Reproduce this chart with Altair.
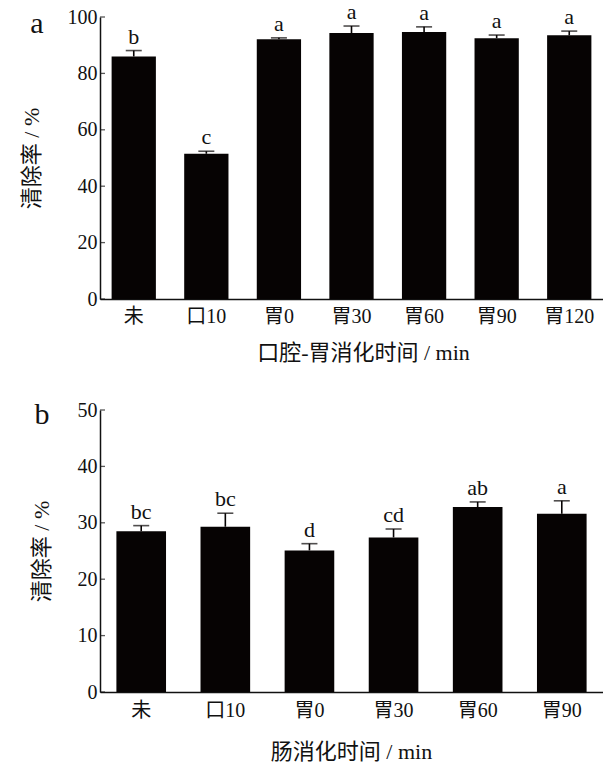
import altair as alt
import pandas as pd

# Panel a: oral-gastric digestion
cats_a = ["未", "口10", "胃0", "胃30", "胃60", "胃90", "胃120"]
vals_a = [86.0, 51.5, 92.1, 94.3, 94.7, 92.5, 93.5]
err_a = [2.1, 0.9, 0.5, 2.5, 1.8, 1.1, 1.5]
sig_a = ["b", "c", "a", "a", "a", "a", "a"]
ticks_a = [0, 20, 40, 60, 80, 100]

# Panel b: intestinal digestion
cats_b = ["未", "口10", "胃0", "胃30", "胃60", "胃90"]
vals_b = [28.5, 29.3, 25.1, 27.4, 32.8, 31.6]
err_b = [1.0, 2.4, 1.2, 1.5, 0.9, 2.3]
sig_b = ["bc", "bc", "d", "cd", "ab", "a"]
ticks_b = [0, 10, 20, 30, 40, 50]

FONT = "Liberation Serif, Times New Roman, Noto Sans CJK SC"
W, H = 503, 282


def panel(cats, vals, errs, sigs, ticks, ymax, xtitle, letter, pin, pout,
          title_x, letter_x, letter_y, label_pad, title_pad):
    df = pd.DataFrame({"c": cats, "v": vals, "e": errs, "s": sigs})
    tdf = pd.DataFrame({"v": ticks})
    x = alt.X("c:N", sort=cats,
              scale=alt.Scale(paddingInner=pin, paddingOuter=pout),
              axis=alt.Axis(title=xtitle, labelAngle=0, ticks=False,
                            labelPadding=label_pad, titlePadding=title_pad,
                            titleX=title_x))
    y = alt.Y("v:Q", scale=alt.Scale(domain=[0, ymax], nice=False),
              axis=alt.Axis(title="清除率 / %", values=ticks, ticks=False,
                            grid=False, labelPadding=3, titlePadding=24))
    base = alt.Chart(df).transform_calculate(hi="datum.v + datum.e")
    bars = base.mark_bar(color="#060303").encode(x=x, y=y)
    rule = base.mark_rule(color="#060303", strokeWidth=1.6).encode(
        x=alt.X("c:N", sort=cats), y="v:Q", y2="hi:Q")
    cap = base.mark_tick(color="#060303", thickness=1.6, size=16,
                         orient="horizontal").encode(
        x=alt.X("c:N", sort=cats), y="hi:Q")
    txt = base.mark_text(baseline="bottom", dy=-2, fontSize=22, font=FONT,
                         color="#111").encode(
        x=alt.X("c:N", sort=cats), y="hi:Q", text="s:N")
    # short inward ticks on the value axis
    yt = alt.Chart(tdf).mark_tick(color="#111", thickness=1.3, size=5,
                                  orient="horizontal").encode(
        y="v:Q", x=alt.value(2.5))
    lab = alt.Chart(pd.DataFrame({"t": [letter]})).mark_text(
        fontSize=30, font=FONT, color="#111", baseline="middle").encode(
        text="t:N", x=alt.value(letter_x), y=alt.value(letter_y))
    return alt.layer(bars, rule, cap, txt, yt, lab).properties(width=W, height=H)


pa = panel(cats_a, vals_a, err_a, sig_a, ticks_a, 100, "口腔-胃消化时间 / min",
           "a", 0.39, 0.16, 263, -63, 7, 7, 16)
pb = panel(cats_b, vals_b, err_b, sig_b, ticks_b, 50, "肠消化时间 / min",
           "b", 0.41, 0.195, 251, -58, 5, 8, 21)

chart = alt.vconcat(pa, pb, spacing=111, bounds="flush").properties(
    padding={"left": 20, "top": 1, "right": 0, "bottom": 0}
).configure(font=FONT).configure_view(stroke=None).configure_axis(
    domainColor="#111", domainWidth=1.5, labelColor="#111", titleColor="#111",
    labelFont=FONT, titleFont=FONT, labelFontSize=20, titleFontSize=22,
    titleFontWeight="normal"
)

chart.save("out.html", embed_options={"renderer": "svg", "actions": False})
